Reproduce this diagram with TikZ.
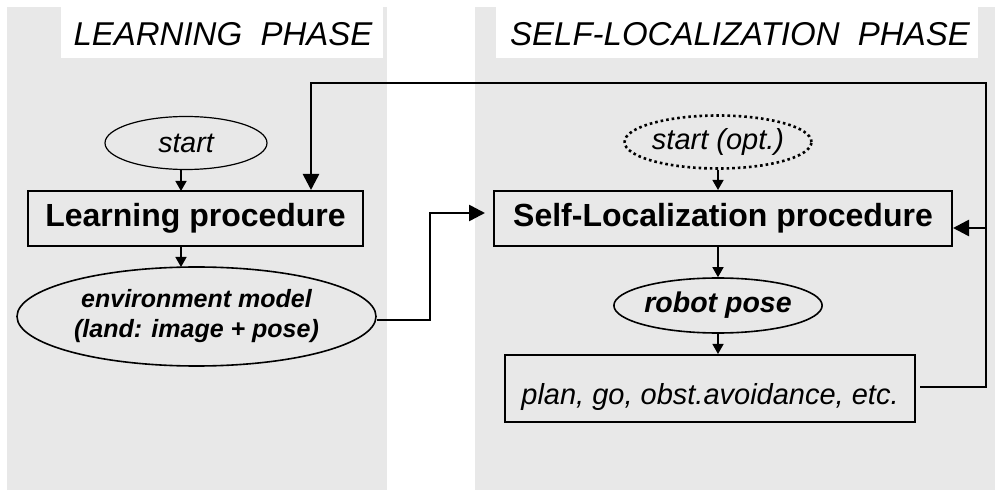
\documentclass[tikz,border=0pt]{standalone}
\usepackage{fontspec}
\setmainfont{Liberation Sans}
\usetikzlibrary{arrows.meta,shapes.geometric}

\definecolor{panelgray}{RGB}{232,232,232}

\tikzset{
  panel/.style={fill=panelgray, draw=none},
  titlebox/.style={fill=white, draw=none},
  titletext/.style={font=\itshape\fontsize{33}{39}\selectfont},
  procbox/.style={draw, line width=2pt, rectangle, inner sep=0pt,
    font=\bfseries\fontsize{32}{38}\selectfont},
  actbox/.style={draw, line width=2pt, rectangle, inner sep=0pt,
    font=\itshape\fontsize{29}{34}\selectfont},
  startell/.style={draw, line width=1.2pt, ellipse, inner sep=0pt,
    font=\itshape\fontsize{28.5}{33}\selectfont},
  optell/.style={draw, line width=2.6pt, ellipse, inner sep=0pt,
    dash pattern=on 2.6pt off 3pt,
    font=\itshape\fontsize{29}{34}\selectfont},
  dataell/.style={draw, line width=1.6pt, ellipse, inner sep=0pt, align=center,
    font=\bfseries\itshape\fontsize{25}{30}\selectfont},
  smallarr/.style={line width=1.4pt, -{Triangle[length=10pt,width=11pt]}},
  bigarr/.style={line width=2.6pt, -{Triangle[length=16pt,width=16pt]}},
}

\begin{document}
\begin{tikzpicture}[x=1pt,y=1pt]
  \useasboundingbox (0,0) rectangle (995,490);

  % phase panels
  \fill[panel] (7,0) rectangle (387,483);
  \fill[panel] (475,0) rectangle (995,483);
  \fill[titlebox] (61,432) rectangle (383,483);
  \fill[titlebox] (496,432) rectangle (978,483);
  \node[titletext] (t1) at (223,456) {LEARNING\ \ PHASE};
  \node[titletext] (t2) at (740,456) {SELF-LOCALIZATION\ \ PHASE};

  % learning phase
  \node[startell, minimum width=162pt, minimum height=53pt] (start1) at (186,347) {start};
  \node[procbox, minimum width=335pt, minimum height=55pt] (learn) at (195.5,271.5) {Learning procedure};
  \node[dataell, minimum width=359pt, minimum height=99pt] (env) at (196.5,173.5)
    {environment model\\(land: image + pose)};

  % self-localization phase
  \node[optell, minimum width=167pt, minimum height=53pt] (start2) at (718,348) {start (opt.)};
  \node[procbox, minimum width=458pt, minimum height=55pt] (self) at (723,271.5) {Self-Localization procedure};
  \node[dataell, font=\bfseries\itshape\fontsize{28.5}{32}\selectfont,
        minimum width=207pt, minimum height=55pt] (pose) at (718,184.5) {robot pose};
  \node[actbox, minimum width=410pt, minimum height=67pt] (plan) at (710,101.5)
    {\raisebox{-16pt}[0pt][0pt]{plan, go, obst.avoidance, etc.}};

  % helper points of the routed connectors
  \coordinate (j1) at (430,277);
  \coordinate (fbTop) at (986,407);
  \coordinate (fbL) at (311,407);
  \coordinate (fbR) at (986,262);
  \coordinate (pl) at (920,103);

  % vertical flow
  \draw[smallarr] (181,320.5) -- (181,299);
  \draw[smallarr] (181,244) -- (181,223);
  \draw[smallarr] (start2.south) -- (start2 |- self.north);
  \draw[smallarr] (pose |- self.south) -- (pose.north);
  \draw[smallarr] (pose.south) -- (pose |- plan.north);

  % model handed to the self-localization
  \draw[bigarr] (env.east |- 0,170) -| (j1) -- (485,277);

  % feedback loop
  \draw[bigarr] (pl) -| (fbTop) -- (fbL) -- (fbL |- learn.north);
  \draw[bigarr] (fbR) -- (fbR -| self.east);
\end{tikzpicture}
\end{document}
